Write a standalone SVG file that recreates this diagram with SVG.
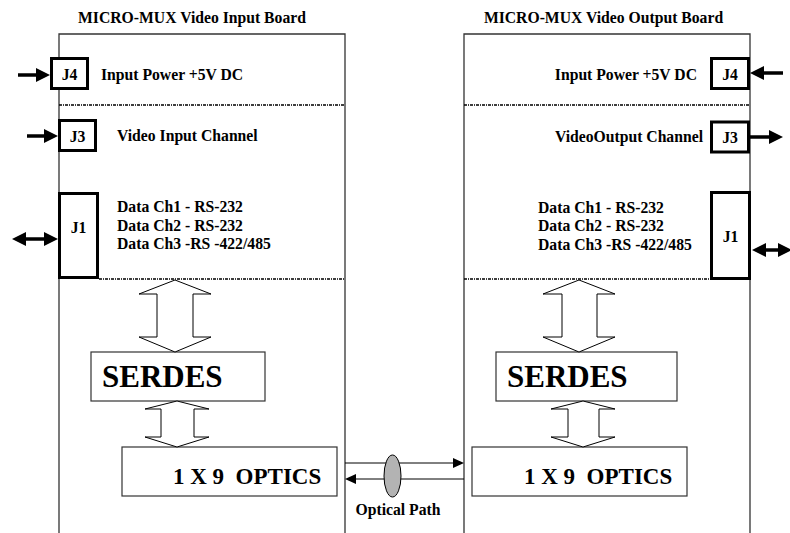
<svg xmlns="http://www.w3.org/2000/svg" width="790" height="533" viewBox="0 0 790 533">
<style>
text{font-family:"Liberation Serif","Times New Roman",serif;font-weight:bold;fill:#000}
.t{font-size:15.7px}
.big{font-size:31px}
.opt{font-size:23px}
.board{fill:none;stroke:#333;stroke-width:1.3}
.jbox{fill:#fff;stroke:#000;stroke-width:3}
.box{fill:#fff;stroke:#333;stroke-width:1.2}
.dots{fill:none;stroke:#000;stroke-width:1.6;stroke-dasharray:3 1 1 1}
.barrow{fill:#fff;stroke:#000;stroke-width:1}
.thick{fill:none;stroke:#000;stroke-width:3.5}
.thin{fill:none;stroke:#000;stroke-width:1}
</style>
<defs>
<marker id="ah" markerUnits="userSpaceOnUse" markerWidth="14" markerHeight="14" refX="6" refY="7" orient="auto-start-reverse" viewBox="0 0 14 14">
<path d="M0,0 L14,7 L0,14 z" fill="#000"/>
</marker>
<marker id="ahs" markerUnits="userSpaceOnUse" markerWidth="11" markerHeight="10" refX="6" refY="5" orient="auto-start-reverse" viewBox="0 0 11 10">
<path d="M0,0 L11,5 L0,10 z" fill="#000"/>
</marker>
</defs>

<g id="input-board">
<path class="board" d="M59,540 V34 H345 V540"/>
<text class="t" x="192" y="23" text-anchor="middle">MICRO-MUX Video Input Board</text>
<line class="dots" x1="59" y1="105" x2="345" y2="105"/>
<line class="dots" x1="99" y1="279" x2="345" y2="279"/>
<text class="t" x="101" y="80">Input Power +5V DC</text>
<text class="t" x="117" y="141">Video Input Channel</text>
<text class="t" x="117" y="212">Data Ch1 - RS-232</text>
<text class="t" x="117" y="230.5">Data Ch2 - RS-232</text>
<text class="t" x="117" y="249">Data Ch3 -RS -422/485</text>
</g>

<g id="output-board">
<path class="board" d="M464,540 V34 H750 V540"/>
<text class="t" x="603.5" y="23" text-anchor="middle">MICRO-MUX Video Output Board</text>
<line class="dots" x1="464" y1="105" x2="750" y2="105"/>
<line class="dots" x1="464" y1="279" x2="710" y2="279"/>
<text class="t" x="697" y="80" text-anchor="end">Input Power +5V DC</text>
<text class="t" x="703" y="142" text-anchor="end">VideoOutput Channel</text>
<text class="t" x="538" y="212.5">Data Ch1 - RS-232</text>
<text class="t" x="538" y="231">Data Ch2 - RS-232</text>
<text class="t" x="538" y="249.5">Data Ch3 -RS -422/485</text>
</g>

<g id="in-j4"><rect class="jbox" x="51.5" y="58.5" width="36" height="30"/><text class="t" x="69.5" y="80" text-anchor="middle">J4</text></g>
<g id="in-j3"><rect class="jbox" x="59.5" y="120.5" width="36" height="30"/><text class="t" x="77.5" y="141.5" text-anchor="middle">J3</text></g>
<g id="in-j1"><rect class="jbox" x="59.5" y="193.5" width="38" height="84"/><text class="t" x="78.5" y="233" text-anchor="middle">J1</text></g>
<g id="out-j4"><rect class="jbox" x="711.5" y="58.5" width="37" height="30"/><text class="t" x="730" y="79.5" text-anchor="middle">J4</text></g>
<g id="out-j3"><rect class="jbox" x="711.5" y="122" width="37" height="30"/><text class="t" x="730" y="142.5" text-anchor="middle">J3</text></g>
<g id="out-j1"><rect class="jbox" x="711.5" y="192.5" width="38" height="86"/><text class="t" x="730.5" y="242" text-anchor="middle">J1</text></g>

<g id="in-serdes"><rect class="box" x="91" y="352" width="174" height="49"/><text class="big" x="102" y="387">SERDES</text></g>
<g id="out-serdes"><rect class="box" x="496" y="352" width="181" height="49"/><text class="big" x="507" y="387">SERDES</text></g>
<g id="in-optics"><rect class="box" x="122" y="447" width="215" height="49"/><text class="opt" x="173" y="483.5" xml:space="preserve" style="white-space:pre">1 X 9  OPTICS</text></g>
<g id="out-optics"><rect class="box" x="472" y="447" width="215" height="49"/><text class="opt" x="524" y="483.5" xml:space="preserve" style="white-space:pre">1 X 9  OPTICS</text></g>

<g id="connectors">
<line class="thick" x1="18" y1="75" x2="42" y2="75" marker-end="url(#ah)"/>
<line class="thick" x1="27" y1="136" x2="50" y2="136" marker-end="url(#ah)"/>
<line class="thick" x1="20" y1="239" x2="50" y2="239" marker-start="url(#ah)" marker-end="url(#ah)"/>
<line class="thick" x1="783" y1="73" x2="758" y2="73" marker-end="url(#ah)"/>
<line class="thick" x1="750" y1="137" x2="775" y2="137" marker-end="url(#ah)"/>
<line class="thick" x1="760" y1="250" x2="784" y2="250" marker-start="url(#ah)" marker-end="url(#ah)"/>
<polygon class="barrow" points="175,280 211,294 193,294 193,337 211,337 175,352 139,337 157,337 157,294 139,294"/>
<polygon class="barrow" points="177,401 209,409 194,409 194,437 209,437 177,447 145,437 161,437 161,409 145,409"/>
<polygon class="barrow" points="579,280 615,294 597,294 597,337 615,337 579,352 543,337 562,337 562,294 543,294"/>
<polygon class="barrow" points="583,401 615,409 599,409 599,437 615,437 583,447 551,437 568,437 568,409 551,409"/>
<line class="thin" x1="345" y1="463" x2="459" y2="463" marker-end="url(#ahs)"/>
<line class="thin" x1="464" y1="479" x2="350" y2="479" marker-end="url(#ahs)"/>
<ellipse cx="392.5" cy="476" rx="8.5" ry="21" fill="#b3b3b3" stroke="#000" stroke-width="1"/>
<text class="t" x="398" y="515" text-anchor="middle">Optical Path</text>
</g>
</svg>
